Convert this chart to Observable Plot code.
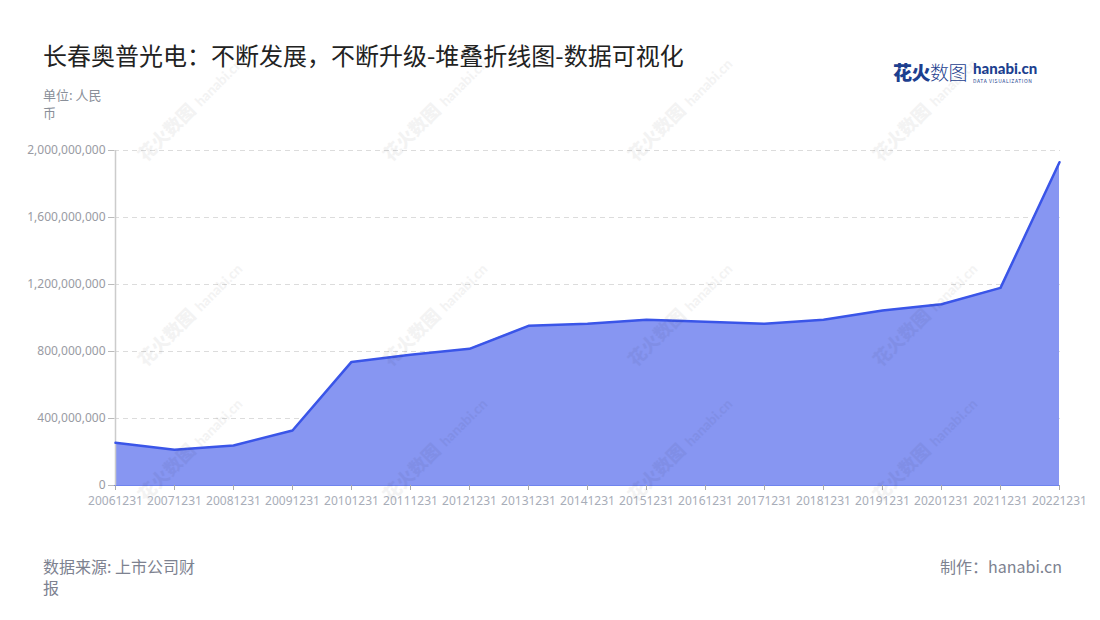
<!DOCTYPE html>
<html>
<head>
<meta charset="utf-8">
<script src="https://cdn.jsdelivr.net/npm/d3@7"></script>
<script src="https://cdn.jsdelivr.net/npm/@observablehq/plot@0.6"></script>
<style>
  body { margin: 0; background: #fff; font-family: "Noto Sans CJK SC", "Noto Sans", sans-serif; }
  #wrap { position: relative; width: 1100px; height: 620px; overflow: hidden; }
  #title { position: absolute; left: 43px; top: 37px; font-size: 24px; color: #222; }
  #unit { position: absolute; left: 43px; top: 86px; width: 70px; font-size: 13px; line-height: 18px; color: #8a8f99; }
  #chart { position: absolute; left: 0; top: 130px; }
  #source { position: absolute; left: 43px; top: 556px; width: 160px; font-size: 16px; line-height: 21px; color: #7d8290; }
  #maker { position: absolute; right: 38px; top: 556px; font-size: 16px; line-height: 21px; color: #7d8290; }
  #logo { position: absolute; left: 893px; top: 58px; display: flex; align-items: center; }
  #logo .cn { font-size: 19px; font-weight: 900; color: #1d3f8f; letter-spacing: -0.5px; }
  #logo .cn span { font-weight: 300; }
  #logo .en { margin-left: 6px; display: flex; flex-direction: column; line-height: 1; }
  #logo .en b { font-family: "Lato", sans-serif; font-size: 15px; font-weight: 900; color: #1d3f8f; }
  #logo .en i { font-style: normal; font-size: 5px; color: #1d3f8f; letter-spacing: 0.6px; margin-top: 2px; }
  .wm { position: absolute; transform: rotate(-45deg); color: #000; opacity: 0.045; font-size: 18px; font-weight: 900; white-space: nowrap; pointer-events: none; }
  .wm span { font-family: "Lato", sans-serif; font-size: 14px; margin-left: 6px; }
</style>
</head>
<body>
<div id="wrap">
  <div id="title">长春奥普光电：不断发展，不断升级-堆叠折线图-数据可视化</div>
  <div id="unit">单位: 人民币</div>
  <div id="logo"><span class="cn">花火<span>数图</span></span><span class="en"><b>hanabi.cn</b><i>DATA VISUALIZATION</i></span></div>
  <div id="chart"></div>
  <div id="source">数据来源: 上市公司财报</div>
  <div id="maker">制作：hanabi.cn</div>
</div>
<script>
const dates = ["20061231","20071231","20081231","20091231","20101231","20111231","20121231","20131231","20141231","20151231","20161231","20171231","20181231","20191231","20201231","20211231","20221231"];
const values = [255000000, 213000000, 239000000, 328000000, 738000000, 780000000, 816000000, 953000000, 965000000, 990000000, 978000000, 965000000, 990000000, 1045000000, 1082000000, 1180000000, 1930000000];
const yTicks = [0, 400000000, 800000000, 1200000000, 1600000000, 2000000000];

const data = dates.map((d, i) => ({date: d, value: values[i]}));

const chart = Plot.plot({
  width: 1100,
  height: 400,
  marginLeft: 114,
  marginRight: 40,
  marginTop: 20,
  marginBottom: 45,
  style: { fontFamily: '"Noto Sans", "Open Sans", sans-serif', fontSize: "12px", background: "transparent" },
  x: { type: "point", domain: dates, padding: 0, label: null },
  y: { domain: [0, 2000000000], label: null },
  marks: [
    Plot.gridY(yTicks, { stroke: "#dcdcdc", strokeOpacity: 1, strokeDasharray: "5,4" }),
    Plot.areaY(data, { x: "date", y: "value", fill: "#8796f2", fillOpacity: 1 }),
    Plot.ruleY([0], { stroke: "#6f84ee", strokeWidth: 1 }),
    Plot.ruleX([dates[0]], { stroke: "#cccccc", strokeWidth: 1.5 }),
    Plot.lineY(data, { x: "date", y: "value", stroke: "#3a55e8", strokeWidth: 2.5 }),
    Plot.axisY(yTicks, { tickFormat: d3.format(","), tickSize: 6, tickPadding: 3, stroke: "#bbbbbb", fill: "#999ba3", label: null }),
    Plot.axisX(dates, { tickSize: 5, tickPadding: 6, stroke: "#aaaaaa", fill: "#a8adb8", label: null })
  ]
});
document.getElementById("chart").appendChild(chart);

// faint watermarks
const wrap = document.getElementById("wrap");
const wmPos = [[120,95],[365,95],[610,95],[855,95],[120,300],[365,300],[610,300],[855,300],[120,435],[365,435],[610,435],[855,435]];
wmPos.forEach(([x, y]) => {
  const el = document.createElement("div");
  el.className = "wm";
  el.style.left = x + "px";
  el.style.top = y + "px";
  el.innerHTML = "花火数图<span>hanabi.cn</span>";
  wrap.appendChild(el);
});
</script>
</body>
</html>
